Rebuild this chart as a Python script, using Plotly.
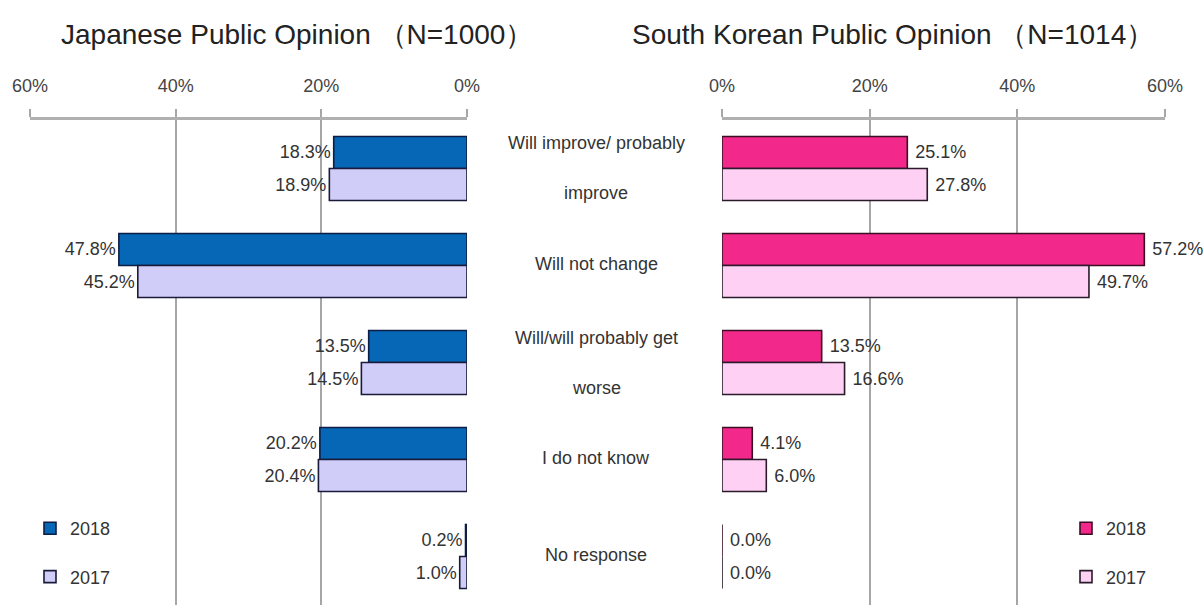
import plotly.graph_objects as go

# Survey categories (top to bottom) and results in percent
categories = [
    "Will improve/ probably improve",
    "Will not change",
    "Will/will probably get worse",
    "I do not know",
    "No response",
]
category_lines = [
    ["Will improve/ probably", "improve"],
    ["Will not change"],
    ["Will/will probably get", "worse"],
    ["I do not know"],
    ["No response"],
]
japan_2018 = [18.3, 47.8, 13.5, 20.2, 0.2]
japan_2017 = [18.9, 45.2, 14.5, 20.4, 1.0]
korea_2018 = [25.1, 57.2, 13.5, 4.1, 0.0]
korea_2017 = [27.8, 49.7, 16.6, 6.0, 0.0]

titles = ["Japanese Public Opinion （N=1000）", "South Korean Public Opinion （N=1014）"]
tick_vals = [0, 20, 40, 60]
tick_text = ["0%", "20%", "40%", "60%"]

W, H = 1204, 616
FONT = "Liberation Sans Narrow, Arial Narrow, Liberation Sans, Arial, sans-serif"
TXT = "#333333"
GRID = "#a6a6a6"

fig = go.Figure()

def add_bar(x, name, fill, edge, xa, ya, legend, pad=""):
    fig.add_trace(go.Bar(
        y=categories, x=x, name=name, orientation="h",
        marker=dict(color=fill, line=dict(color=edge, width=1.6)),
        texttemplate=pad + "%{x:.1f}%", textposition="outside",
        textfont=dict(family=FONT, size=18, color=TXT),
        constraintext="none", cliponaxis=False,
        xaxis=xa, yaxis=ya, legend=legend, legendgroup=name + legend,
    ))

add_bar(japan_2018, "2018", "#0567b5", "#0e1d45", "x", "y", "legend")
add_bar(japan_2017, "2017", "#d0cdf8", "#1a1a3a", "x", "y", "legend")
add_bar(korea_2018, "2018", "#f2288a", "#3a0f24", "x2", "y2", "legend2", "\u00a0")
add_bar(korea_2017, "2017", "#fdd0f4", "#2a1a2a", "x2", "y2", "legend2", "\u00a0")

y_dom = [1 - 605 / H, 1 - 120 / H]
axis_common = dict(
    side="top", tickvals=tick_vals, ticktext=tick_text,
    showgrid=True, gridcolor=GRID, gridwidth=1.6,
    showline=True, linecolor="#b0b0b0", linewidth=2.5,
    ticks="outside", ticklen=8, tickcolor=GRID, tickwidth=1.6,
    tickfont=dict(family=FONT, size=18, color="#444444"),
    ticklabelstandoff=10, zeroline=False, fixedrange=True, automargin=False,
)
y_common = dict(
    domain=y_dom, type="category", categoryarray=categories,
    categoryorder="array", range=[4.5, -0.5], automargin=False,
    showticklabels=False, showgrid=False, zeroline=False, showline=False,
)

fig.update_layout(
    width=W, height=H,
    margin=dict(l=0, r=0, t=0, b=0, pad=0, autoexpand=False),
    paper_bgcolor="white", plot_bgcolor="rgba(0,0,0,0)",
    barmode="group", bargap=0.34, bargroupgap=0,
    font=dict(family=FONT, color=TXT),
    xaxis=dict(domain=[30 / W, 467 / W], range=[60, 0], anchor="y", **axis_common),
    xaxis2=dict(domain=[722 / W, 1165 / W], range=[0, 60], anchor="y2", **axis_common),
    yaxis=dict(anchor="x", **y_common),
    yaxis2=dict(anchor="x2", **y_common),
    legend=dict(
        x=30 / W, y=1 - 510 / H, xanchor="left", yanchor="top",
        bgcolor="rgba(0,0,0,0)", font=dict(family=FONT, size=18, color=TXT),
        itemwidth=30, tracegroupgap=22, traceorder="grouped",
    ),
    legend2=dict(
        x=1152 / W, y=1 - 510 / H, xanchor="right", yanchor="top",
        bgcolor="rgba(0,0,0,0)", font=dict(family=FONT, size=18, color=TXT),
        itemwidth=30, tracegroupgap=22, traceorder="grouped",
    ),
    showlegend=True,
)

# Panel titles
for t, cx in zip(titles, [297, 893]):
    fig.add_annotation(
        text=t, xref="paper", yref="paper", x=cx / W, y=1 - 35 / H,
        showarrow=False, xanchor="center", yanchor="middle",
        font=dict(family="Liberation Sans, Arial, sans-serif", size=28, color="#222222"),
    )

# Category labels centred between the two panels
for cat, lines in zip(categories, category_lines):
    n = len(lines)
    for i, line in enumerate(lines):
        shift = (-(n - 1) / 2 + i) * 50 if n > 1 else -2
        fig.add_annotation(
            text=line, xref="paper", yref="y", x=596 / W, y=cat,
            yshift=-shift, showarrow=False, xanchor="center", yanchor="middle",
            font=dict(family=FONT, size=18, color=TXT),
        )

fig.write_html("out.html")
